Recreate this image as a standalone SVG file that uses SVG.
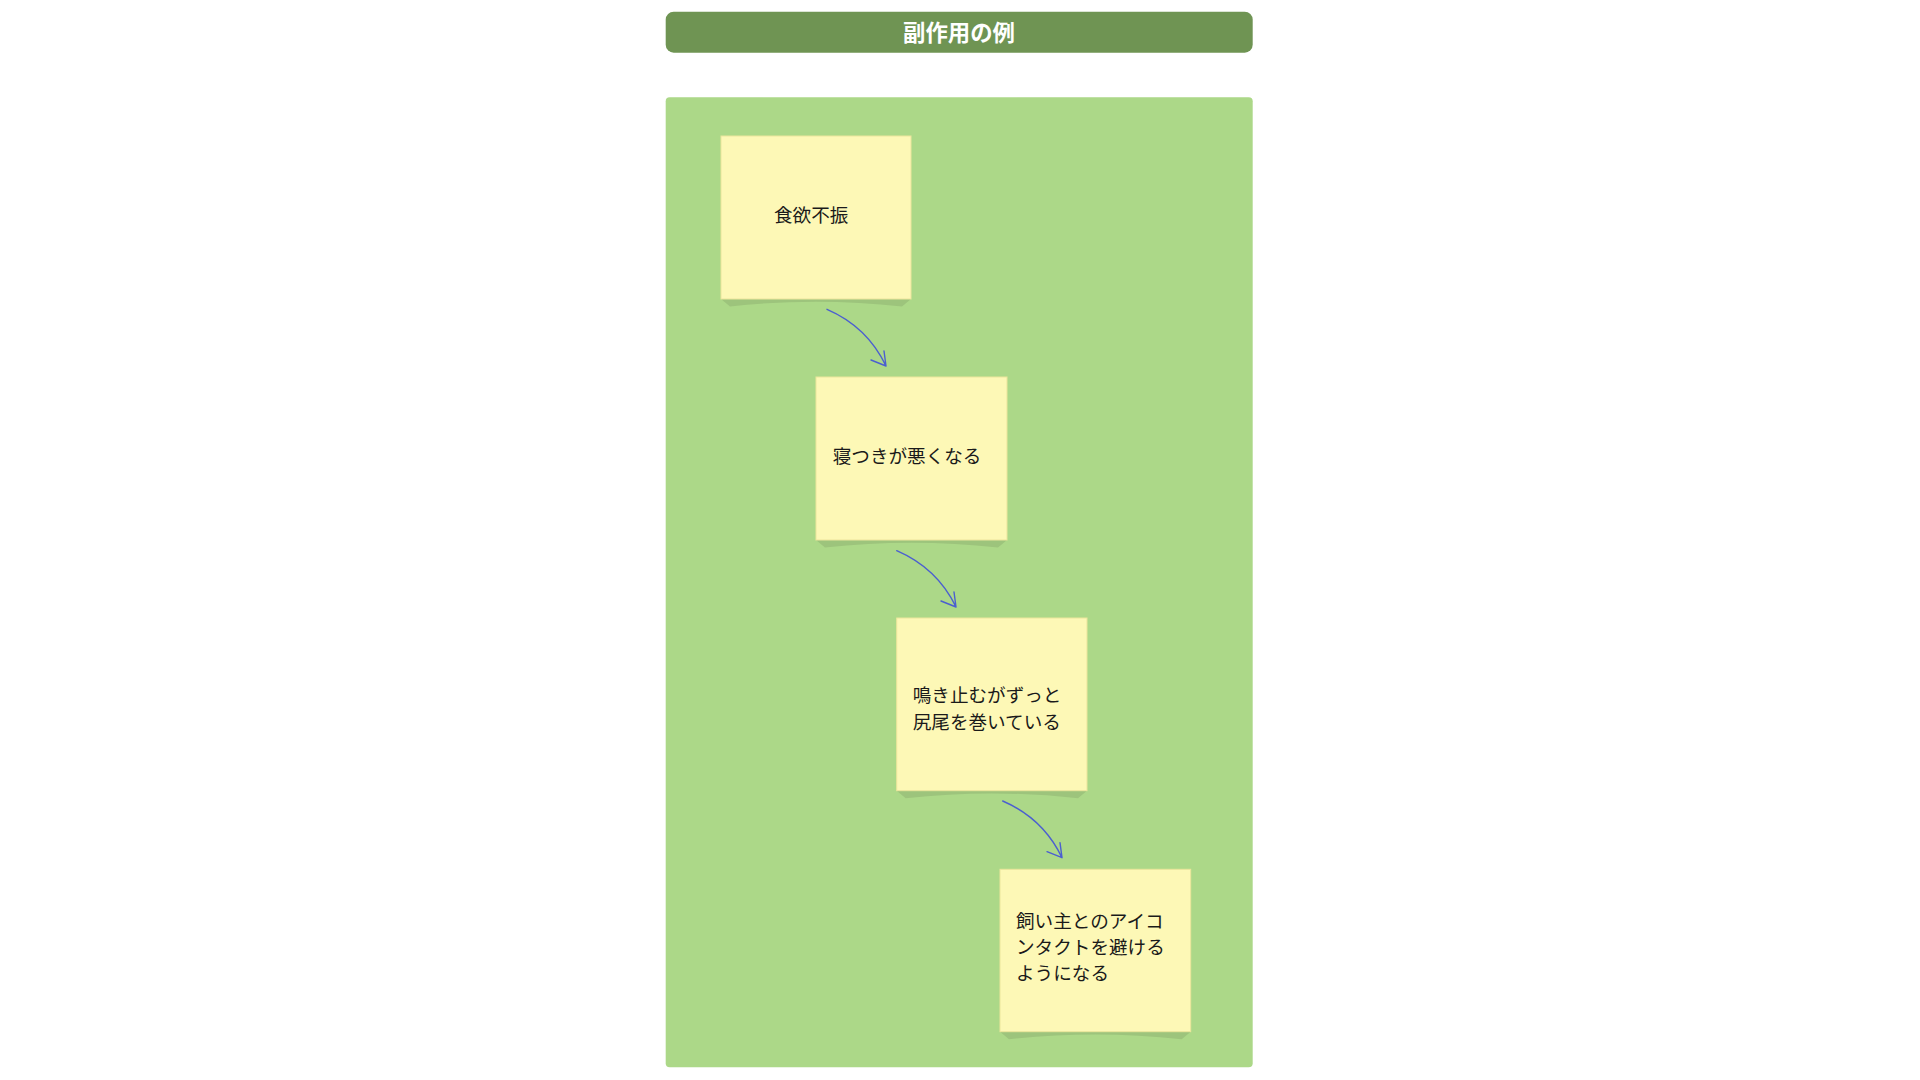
<svg xmlns="http://www.w3.org/2000/svg" width="1920" height="1080" viewBox="0 0 1920 1080">
<style>
.note{fill:#fdf8b6;stroke:#ece59c;stroke-width:1}
.shadow{fill:#9dc47c}
.nt{font-family:"Noto Sans CJK JP","Noto Sans",sans-serif;font-size:18.6px;fill:#1a1a1a;dominant-baseline:central}
.conn{fill:none;stroke:#4b5fd0;stroke-width:1.4;stroke-linecap:round;stroke-linejoin:round}
</style>
<rect width="1920" height="1080" fill="#ffffff"/>
<g id="title">
<rect x="665.7" y="11.7" width="587" height="41" rx="8" fill="#6f9453"/>
<text x="959" y="30.5" text-anchor="middle" dominant-baseline="central" font-family="Noto Sans CJK JP,Noto Sans,sans-serif" font-size="22.4" font-weight="bold" fill="#ffffff">副作用の例</text>
</g>
<g id="panel">
<rect x="665.7" y="97.3" width="587" height="970" rx="4" fill="#acd888"/>
</g>
<g id="node1">
<path class="shadow" d="M721,299 L730,306.5 Q816,297 902,306.5 L911,299 Z"/>
<rect class="note" x="721" y="136" width="190" height="163"/>
<text class="nt" x="774" y="213">食欲不振</text>
</g>
<g id="node2">
<path class="shadow" d="M816,540 L825,547.5 Q911.5,538 998,547.5 L1007,540 Z"/>
<rect class="note" x="816" y="377" width="191" height="163"/>
<text class="nt" x="832.7" y="454">寝つきが悪くなる</text>
</g>
<g id="node3">
<path class="shadow" d="M896.7,790.7 L905.7,798.2 Q991.8,788.7 1078,798.2 L1087,790.7 Z"/>
<rect class="note" x="896.7" y="618" width="190.3" height="172.7"/>
<text class="nt" x="912.7" y="693.7">鳴き止むがずっと</text>
<text class="nt" x="912.7" y="720.3">尻尾を巻いている</text>
</g>
<g id="node4">
<path class="shadow" d="M1000,1031.7 L1009,1039.2 Q1095.3,1029.7 1181.7,1039.2 L1190.7,1031.7 Z"/>
<rect class="note" x="1000" y="869.3" width="190.7" height="162.4"/>
<text class="nt" x="1016" y="919.7">飼い主とのアイコ</text>
<text class="nt" x="1016" y="945.7">ンタクトを避ける</text>
<text class="nt" x="1016" y="971.3">ようになる</text>
</g>
<g id="connectors">
<path class="conn" d="M827,309.3 q40.5,17.5 59,56.7 M871,360 L886,366 L884,351"/>
<path class="conn" d="M896.7,550.7 q40.5,17.5 59.3,56.3 M941,601 L956,607 L954,592"/>
<path class="conn" d="M1002.7,801 q40.5,17.5 59.3,56.7 M1047,851.7 L1062,857.7 L1060,842.7"/>
</g>
</svg>
